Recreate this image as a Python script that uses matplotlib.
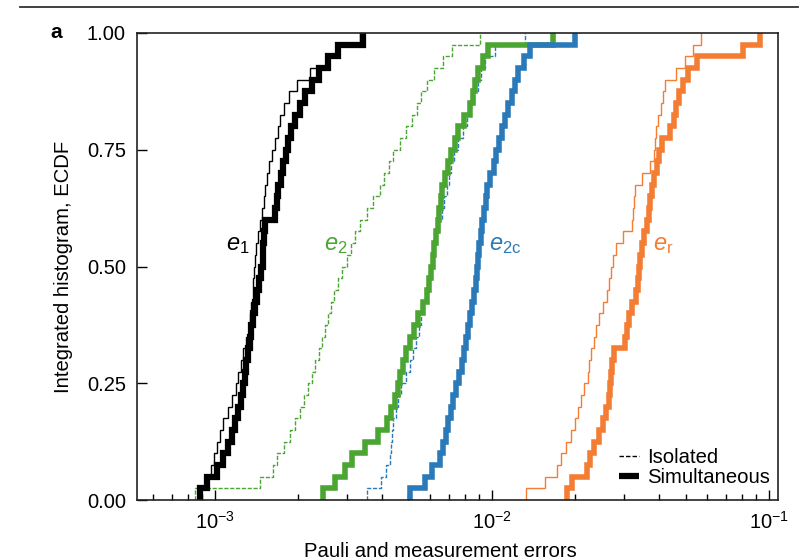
import numpy as np
import matplotlib
matplotlib.use("Agg")
import matplotlib.pyplot as plt
from matplotlib.lines import Line2D
from matplotlib.ticker import LogLocator, LogFormatterSciNotation, NullFormatter

plt.rcParams['font.family'] = ['Liberation Sans', 'DejaVu Sans']
plt.rcParams['mathtext.fontset'] = 'custom'
plt.rcParams['mathtext.rm'] = 'Liberation Sans'
plt.rcParams['mathtext.it'] = 'Liberation Sans:italic'
plt.rcParams['mathtext.default'] = 'regular'

# error values, in units of 1e-3 (sorted samples)
e1_iso = [0.883, 0.928, 0.967, 0.992, 1.017, 1.042, 1.069, 1.114, 1.152, 1.191,
          1.211, 1.241, 1.262, 1.294, 1.327, 1.338, 1.349, 1.372, 1.372, 1.383,
          1.394, 1.406, 1.430, 1.454, 1.478, 1.502, 1.515, 1.540, 1.566, 1.605,
          1.647, 1.689, 1.717, 1.775, 1.850, 1.977, 2.203, 2.516, 2.735, 3.338]
e1_sim = [0.883, 0.935, 1.017, 1.069, 1.114, 1.152, 1.181, 1.211, 1.241, 1.262,
          1.283, 1.294, 1.316, 1.338, 1.349, 1.372, 1.394, 1.418, 1.442, 1.466,
          1.490, 1.490, 1.502, 1.515, 1.647, 1.675, 1.689, 1.731, 1.760, 1.804,
          1.834, 1.881, 1.945, 2.027, 2.113, 2.240, 2.374, 2.558, 2.783, 3.422]
e2_iso = [0.847, 1.454, 1.620, 1.675, 1.775, 1.865, 1.945, 2.027, 2.095, 2.166,
          2.240, 2.296, 2.374, 2.434, 2.495, 2.558, 2.622, 2.690, 2.781, 2.876,
          2.997, 3.098, 3.202, 3.338, 3.538, 3.718, 3.942, 4.076, 4.248, 4.392,
          4.656, 4.894, 5.143, 5.362, 5.544, 5.827, 6.177, 6.656, 7.174, 9.055]
e2_sim = [2.454, 2.712, 2.947, 3.124, 3.480, 3.877, 4.179, 4.320, 4.466, 4.578,
          4.656, 4.774, 4.894, 5.059, 5.230, 5.407, 5.638, 5.827, 5.925, 6.024,
          6.126, 6.177, 6.280, 6.386, 6.439, 6.547, 6.602, 6.768, 6.940, 7.114,
          7.355, 7.540, 7.927, 8.332, 8.541, 8.686, 8.906, 9.284, 9.678, 16.61]
e2c_iso = [3.538, 3.975, 4.144, 4.284, 4.320, 4.356, 4.392, 4.503, 4.578, 4.695,
           4.894, 5.059, 5.186, 5.318, 5.453, 5.544, 5.638, 5.779, 5.876, 5.975,
           6.075, 6.177, 6.280, 6.439, 6.602, 6.712, 6.881, 6.997, 7.114, 7.294,
           7.540, 7.860, 8.127, 8.332, 8.614, 8.906, 9.130, 9.439, 10.25, 13.16]
e2c_sim = [5.059, 5.731, 6.075, 6.493, 6.656, 6.824, 6.940, 7.114, 7.234, 7.417,
           7.603, 7.796, 7.927, 8.060, 8.194, 8.332, 8.471, 8.614, 8.758, 8.831,
           8.906, 8.980, 9.130, 9.206, 9.360, 9.518, 9.598, 9.835, 10.17, 10.34,
           10.60, 10.87, 11.14, 11.42, 11.80, 12.11, 12.41, 13.05, 13.72, 19.94]
er_iso = [13.27, 15.54, 17.18, 17.75, 18.50, 19.29, 19.94, 20.45, 20.96, 21.49,
          22.22, 22.40, 22.78, 23.36, 23.75, 24.35, 25.17, 26.02, 26.45, 26.89,
          27.35, 28.03, 29.71, 32.03, 32.30, 32.56, 32.83, 34.81, 37.19, 38.45,
          38.77, 39.09, 39.75, 40.76, 41.43, 42.13, 46.16, 49.75, 53.18, 56.83]
er_sim = [18.66, 19.45, 22.03, 22.59, 23.36, 24.35, 25.17, 25.80, 26.45, 26.67,
          26.89, 27.12, 27.57, 30.21, 30.72, 31.24, 32.03, 33.10, 33.66, 33.95,
          34.23, 34.81, 35.38, 36.28, 36.88, 37.19, 37.82, 38.45, 39.42, 40.08,
          41.10, 43.92, 45.40, 46.16, 47.34, 48.93, 51.01, 54.98, 80.57, 92.80]

c_black = '#000000'
c_green = '#4aa532'
c_blue = '#2a7ab9'
c_orange = '#f37d33'

series = [
    (e1_iso, c_black, 1.0, '-'),
    (e2_iso, c_green, 1.0, (0, (3, 1.2))),
    (e2c_iso, c_blue, 1.0, (0, (3, 1.2))),
    (er_iso, c_orange, 1.0, '-'),
    (e1_sim, c_black, 4.5, '-'),
    (e2_sim, c_green, 4.0, '-'),
    (e2c_sim, c_blue, 4.0, '-'),
    (er_sim, c_orange, 4.0, '-'),
]

fig = plt.figure(figsize=(8.08, 5.6), dpi=100)
ax = fig.add_axes([137/808, 1-500/560, 641/808, 467/560])

for vals, col, lw, ls in series:
    s = np.sort(np.array(vals) * 1e-3)
    n = len(s)
    xs = np.concatenate([[s[0]], s])
    ys = np.concatenate([[0], np.arange(1, n + 1) / n])
    ax.step(xs, ys, where='post', color=col, lw=lw, ls=ls,
            solid_joinstyle='miter', solid_capstyle='butt')

ax.set_xscale('log')
ax.set_xlim(5.24e-4, 0.1078)
ax.set_ylim(0, 1)
ax.set_yticks([0, 0.25, 0.5, 0.75, 1.0])
ax.set_yticklabels(['0.00', '0.25', '0.50', '0.75', '1.00'])
ax.xaxis.set_major_locator(LogLocator(base=10, numticks=10))
ax.xaxis.set_major_formatter(LogFormatterSciNotation())
ax.xaxis.set_minor_locator(LogLocator(base=10, subs=np.arange(2, 10), numticks=20))
ax.xaxis.set_minor_formatter(NullFormatter())
ax.tick_params(axis='both', which='major', direction='in', length=7, width=1,
               labelsize=14.5, pad=8, top=False, right=False)
ax.tick_params(axis='x', which='minor', direction='in', length=4, width=1,
               top=False)
for sp in ax.spines.values():
    sp.set_linewidth(1.2)
    sp.set_color('#222222')

ax.set_xlabel('Pauli and measurement errors', fontsize=14.6)
ax.xaxis.set_label_coords(0.473, -0.09)
ax.set_ylabel('Integrated histogram, ECDF', fontsize=14.6, labelpad=10)

ax.text(1.21e-3, 0.545, r'$\mathit{e}_{1}$', color=c_black, fontsize=17, ha='center', va='center')
ax.text(2.73e-3, 0.545, r'$\mathit{e}_{2}$', color=c_green, fontsize=17, ha='center', va='center')
ax.text(1.12e-2, 0.545, r'$\mathit{e}_{2c}$', color=c_blue, fontsize=17, ha='center', va='center')
ax.text(4.15e-2, 0.545, r'$\mathit{e}_{r}$', color=c_orange, fontsize=17, ha='center', va='center')

handles = [Line2D([], [], color='k', lw=1.0, ls=(0, (3.2, 1.5))),
           Line2D([], [], color='k', lw=4.5, solid_capstyle='butt')]
ax.legend(handles, ['Isolated', 'Simultaneous'], loc='lower right',
          bbox_to_anchor=(0.9875, 0.028), frameon=False, fontsize=14.6,
          handlelength=1.0, handletextpad=0.4, labelspacing=0.05,
          borderpad=0, borderaxespad=0)

fig.add_artist(Line2D([20/808, 798/808], [1-7/560, 1-7/560], color='#333333', lw=1.3))
fig.text(50/808, 1-33/560, 'a', fontsize=15, fontweight='bold', va='center')

fig.savefig('out.png', dpi=100)
